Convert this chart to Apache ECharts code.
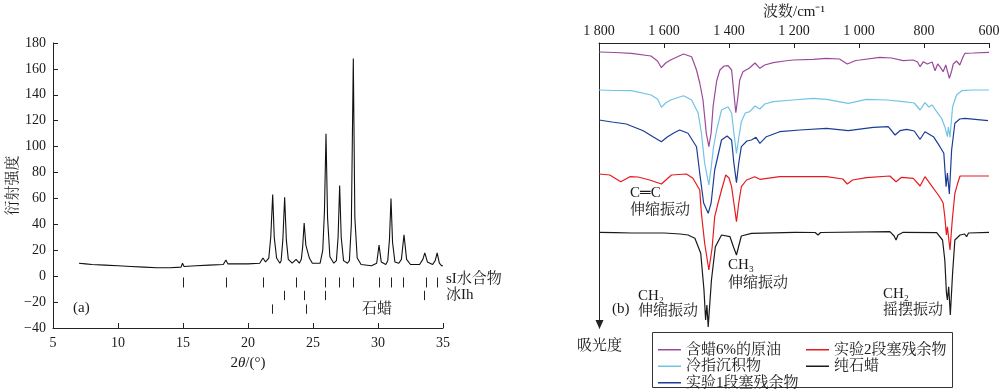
<!DOCTYPE html>
<html><head><meta charset="utf-8">
<script src="https://cdn.jsdelivr.net/npm/echarts@6/dist/echarts.min.js"></script>
<style>html,body{margin:0;padding:0;background:#fff}#c{width:1000px;height:389px}</style>
</head><body><div id="c"></div>
<script>
// ---------- Panel (a): XRD ----------
const xrdPoints = [
 [7.0,10],[7.5,9.5],[8,9],[9,8.5],[10,8],[11,7.5],[12,7],[13,6.5],[14,6.5],[14.85,7],[14.96,10],[15.08,7.5],
 [16,8],[17,8.5],[18.1,9],[18.3,12.5],[18.45,9.5],[19,9.5],[20,9.5],[20.9,10],[21.15,14],[21.35,11],
 [21.6,14],[21.75,30],[21.9,63],[22.02,30],[22.2,14],[22.45,10],
 [22.55,12],[22.68,28],[22.82,61],[22.95,28],[23.1,13],[23.4,10],[23.7,13],[23.95,10],
 [24.1,13],[24.2,22],[24.32,41],[24.45,24],[24.58,25],[24.72,14],[24.95,10],
 [25.55,10],[25.75,20],[25.88,50],[26.0,110],[26.12,45],[26.3,15],[26.6,10],
 [26.8,12],[26.93,30],[27.05,70],[27.17,30],[27.35,12],[27.65,10],
 [27.8,12],[27.95,40],[28.1,168],[28.22,45],[28.4,14],[28.7,9],
 [29.5,8],[29.9,10],[30.08,24],[30.25,11],[30.6,9],
 [30.75,12],[30.88,28],[31.0,60],[31.12,26],[31.3,11],[31.6,10],
 [31.8,13],[32.0,32],[32.2,13],[32.5,9],[33.2,9],
 [33.45,13],[33.6,18],[33.8,11],[34.2,9],
 [34.4,12],[34.55,18],[34.72,10],[34.9,8],[35,8]
];
const sIPositions = [14.98,18.3,21.14,23.66,25.92,27.02,28.05,30.05,31.0,31.95,33.7,34.54];
const iceIhPositions = [22.78,24.3,25.92,33.56];
const paraffinPositions = [21.81,24.45];

// ---------- Panel (b): IR spectra (absorbance, arbitrary offset units, larger = lower on chart) ----------
const irCrude = [
 [1800,9],[1750,9.5],[1700,10.3],[1640,13],[1620,18],[1608,24.7],[1595,20],[1580,17],[1540,11],[1515,13.7],
 [1500,27],[1490,40],[1480,57],[1470,90],[1462,103.7],[1455,90],[1449,63.7],[1438,38],[1428,27],[1415,23],
 [1403,22.7],[1392,27],[1385,50],[1379,69.7],[1373,55],[1367,37],[1357,28.7],[1337,25],[1320,20],[1305,25.3],
 [1290,22],[1264,19.7],[1230,18],[1203,17],[1141,16.3],[1100,15.3],[1060,16],[1036,21],[1010,17.5],[997,17],
 [936,14.3],[900,15],[864,17.7],[833,17],[820,19],[812,23.7],[802,18.7],[790,21],[775,19],[766,27.7],
 [758,21],[751,23.7],[741,28.7],[733,22],[722,35.3],[715,28],[710,21],[700,18],[690,22],[680,14],
 [674,10.3],[650,10],[600,9.3]
];
const irColdFinger = [
 [1800,47],[1750,47.5],[1700,47.7],[1640,52],[1620,56],[1608,64.3],[1595,60],[1580,57],[1540,52.7],[1515,57],
 [1495,70],[1485,90],[1475,120],[1462,142],[1455,125],[1448,105],[1438,87],[1423,67],[1403,63.7],[1392,70],
 [1385,90],[1377,110.3],[1370,95],[1362,78.7],[1350,70],[1336,68.7],[1320,63],[1305,66],[1290,61],[1264,58.7],
 [1203,57],[1141,55.3],[1100,56.3],[1033,60.3],[977,56.3],[915,57],[864,58.7],[830,60],[812,67],[797,59.7],
 [785,64],[775,62],[761,68.7],[746,75.3],[736,83.7],[728,93.7],[725,84],[720,94.3],[712,63.7],[700,52],
 [684,47.7],[650,47],[600,47]
];
const irSlug1 = [
 [1800,77],[1760,79],[1716,81],[1664,87.7],[1634,93.7],[1608,98.7],[1590,94],[1570,90],[1552,87],[1526,90.3],
 [1500,103.7],[1490,130.3],[1478,160],[1464,170.3],[1455,160],[1444,127],[1423,97],[1406,93],[1392,97],[1385,120],
 [1377,139.7],[1370,120],[1362,103.7],[1345,98],[1331,97],[1317,94.3],[1305,100.3],[1285,93.7],[1244,88.7],[1182,87],
 [1100,85.3],[1033,87.7],[956,84.3],[910,83.7],[889,92],[874,87.7],[853,86.3],[830,88],[812,96.3],[797,88.7],
 [771,93.7],[751,103.7],[739,110.3],[732,143.7],[728,130],[722,151],[715,107],[705,80.3],[690,76],[674,75.3],
 [603,77.7]
];
const irSlug2 = [
 [1800,131],[1767,132],[1733,138.7],[1705,133.7],[1680,134],[1644,137],[1608,141],[1577,132],[1531,131],[1511,135.3],
 [1490,147],[1485,170],[1475,200],[1462,227],[1452,205],[1444,173.7],[1432,158],[1423,147],[1410,132],[1400,135],
 [1392,143.7],[1385,160],[1377,178.7],[1370,160],[1362,143.7],[1346,137],[1321,133.7],[1305,136.3],[1244,133.7],[1182,133.7],
 [1100,133.7],[1050,136],[1036,141],[1020,137],[977,134.7],[905,133],[886,138.7],[869,134.3],[833,135.3],[812,143],
 [797,133.7],[782,140.3],[756,152],[746,157],[741,160.3],[736,173.7],[731,192],[728,183.7],[720,207],[713,177],
 [705,150.3],[695,138.7],[689,133],[600,133]
];
const irParaffin = [
 [1800,189.3],[1750,189.6],[1700,190],[1600,190],[1550,191],[1526,192],[1505,195.3],[1487,210.3],[1477,247],[1472,277],
 [1468,262],[1464,284],[1460,265],[1454,237],[1442,203.7],[1423,192],[1397,193.7],[1385,205],[1377,212],[1370,203],
 [1362,193],[1331,190.3],[1197,189.3],[1135,189.5],[1126,192],[1118,189.5],[905,188.7],[892,193],[886,197],[880,192],
 [864,189.3],[761,189.7],[743,197],[736,217],[731,250],[728,257],[724,243.7],[719,272],[712,230],[705,197],
 [689,192],[675,191],[669,193.7],[663,190],[600,189.3]
];
const irNames = ['含蜡6%的原油','冷指沉积物','实验1段塞残余物','实验2段塞残余物','纯石蜡'];
const irColors = ['#9b4a9b','#72c3e6','#1c3d96','#e51b20','#1a1a1a'];
const irData = [irCrude, irColdFinger, irSlug1, irSlug2, irParaffin];

const FONT = "'Liberation Serif','Noto Serif CJK SC','Noto Sans CJK SC',serif";
const TXT = '#1a1a1a';

const chart = echarts.init(document.getElementById('c'), null, {renderer:'canvas'});

function tickSeries(name, positions, y1, y2){
  return {
    name, type:'custom', xAxisIndex:0, yAxisIndex:0, silent:true,
    data: positions.map(x => [x]),
    renderItem: (params, api) => {
      const p1 = api.coord([api.value(0), y1]);
      const p2 = api.coord([api.value(0), y2]);
      return {type:'line', shape:{x1:Math.round(p1[0])+0.5,y1:p1[1],x2:Math.round(p2[0])+0.5,y2:p2[1]}, style:{stroke:'#222', lineWidth:1}};
    }
  };
}

const legendCommon = {orient:'vertical', icon:'rect', itemWidth:23, itemHeight:1.5, itemGap:1, padding:0,
  height:60, textStyle:{fontFamily:FONT, fontSize:15, color:TXT, lineHeight:15.5}};

const option = {
  animation:false,
  textStyle:{fontFamily:FONT, color:TXT},
  grid:[
    {left:53, top:43, width:390, height:285, containLabel:false, outerBoundsMode:'none'},
    {left:599, top:43, width:390, height:285, containLabel:false, outerBoundsMode:'none'}
  ],
  xAxis:[
    {gridIndex:0, type:'value', min:5, max:35, interval:5,
     name:'2{i|θ}/(°)', nameLocation:'middle', nameGap:28,
     nameTextStyle:{fontFamily:FONT, fontSize:15, color:TXT, rich:{i:{fontFamily:FONT, fontStyle:'italic', fontSize:15, color:TXT}}},
     axisLine:{onZero:false, lineStyle:{color:'#222', width:1}}, axisTick:{inside:true, length:5, lineStyle:{color:'#222'}},
     axisLabel:{fontFamily:FONT, fontSize:14, color:TXT, margin:8}, splitLine:{show:false}},
    {gridIndex:1, type:'value', min:600, max:1800, interval:200, inverse:true, position:'top',
     name:'波数/cm⁻¹', nameLocation:'middle', nameGap:22,
     nameTextStyle:{fontFamily:FONT, fontSize:15, color:TXT},
     axisLine:{onZero:false, lineStyle:{color:'#222', width:1}}, axisTick:{inside:true, length:5, lineStyle:{color:'#222'}},
     axisLabel:{fontFamily:FONT, fontSize:14, color:TXT, margin:5, showMinLabel:true, showMaxLabel:true,
       formatter: v => v >= 1000 ? Math.floor(v/1000) + ' ' + String(v%1000).padStart(3,'0') : String(v)},
     splitLine:{show:false}}
  ],
  yAxis:[
    {gridIndex:0, type:'value', min:-40, max:180, interval:20,
     name:'衍射强度', nameLocation:'middle', nameGap:31,
     nameTextStyle:{fontFamily:FONT, fontSize:15, color:TXT},
     axisLine:{show:true, onZero:false, lineStyle:{color:'#222', width:1}}, axisTick:{show:true, inside:true, length:5, lineStyle:{color:'#222'}},
     axisLabel:{fontFamily:FONT, fontSize:14, color:TXT, margin:7, formatter: v => v < 0 ? '−' + Math.abs(v) : String(v)},
     splitLine:{show:false}},
    {gridIndex:1, type:'value', min:0, max:285, inverse:true,
     axisLine:{show:true, onZero:false, lineStyle:{color:'#222', width:1}},
     axisTick:{show:false}, axisLabel:{show:false}, splitLine:{show:false}}
  ],
  legend:[
    Object.assign({left:658, top:342, data:[irNames[0], irNames[1], irNames[2]]}, legendCommon),
    Object.assign({left:806, top:342, data:[irNames[3], irNames[4]]}, legendCommon)
  ],
  series:[
    {type:'line', xAxisIndex:0, yAxisIndex:0, data:xrdPoints, showSymbol:false, symbol:'none',
     lineStyle:{color:'#111', width:1.1}, silent:true},
    tickSeries('sI', sIPositions, -1, -8.7),
    tickSeries('ice', iceIhPositions, -11.3, -18.5),
    tickSeries('paraffin', paraffinPositions, -21.8, -29),
    ...irData.map((d, i) => ({
      name: irNames[i], type:'line', xAxisIndex:1, yAxisIndex:1, data:d, symbol:'none', showSymbol:false,
      lineStyle:{color:irColors[i], width:1.2}, itemStyle:{color:irColors[i]}, silent:true, z: 2 + (4-i)
    }))
  ],
  graphic:[
    {type:'text', left:73, top:301, style:{text:'(a)', font:"15px " + FONT, fill:TXT}},
    {type:'text', left:446, top:272, style:{text:'sI水合物', font:"15px " + FONT, fill:TXT}},
    {type:'text', left:446, top:288, style:{text:'冰Ih', font:"15px " + FONT, fill:TXT}},
    {type:'text', left:362, top:302, style:{text:'石蜡', font:"15px " + FONT, fill:TXT}},
    {type:'text', left:630, top:186, style:{text:'C═C', font:"15px " + FONT, fill:TXT}},
    {type:'text', left:630, top:203, style:{text:'伸缩振动', font:"15px " + FONT, fill:TXT}},
    {type:'text', left:728, top:258, style:{text:'CH₃', font:"15px " + FONT, fill:TXT}},
    {type:'text', left:728, top:276, style:{text:'伸缩振动', font:"15px " + FONT, fill:TXT}},
    {type:'text', left:638, top:289, style:{text:'CH₂', font:"15px " + FONT, fill:TXT}},
    {type:'text', left:612, top:302, style:{text:'(b)', font:"15px " + FONT, fill:TXT}},
    {type:'text', left:638, top:304, style:{text:'伸缩振动', font:"15px " + FONT, fill:TXT}},
    {type:'text', left:883, top:287, style:{text:'CH₂', font:"15px " + FONT, fill:TXT}},
    {type:'text', left:883, top:303, style:{text:'摇摆振动', font:"15px " + FONT, fill:TXT}},
    {type:'text', left:577, top:339, style:{text:'吸光度', font:"15px " + FONT, fill:TXT}},
    {type:'polygon', shape:{points:[[595.5,320],[603.5,320],[599.5,329]]}, style:{fill:'#222'}},
    {type:'rect', shape:{x:652.5, y:332.5, width:300, height:55}, style:{fill:'none', stroke:'#333', lineWidth:1}}
  ]
};
chart.setOption(option);
</script>
</body></html>
